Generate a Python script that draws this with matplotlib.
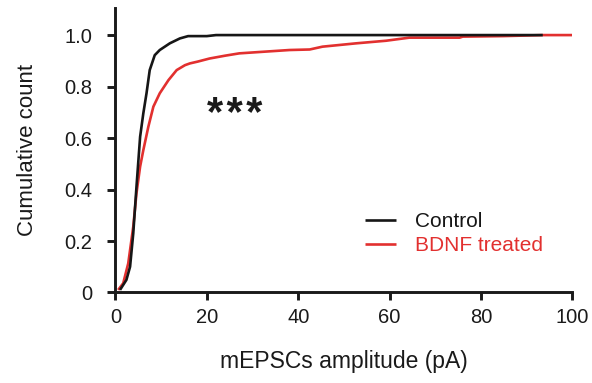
import matplotlib
matplotlib.use("Agg")
import matplotlib.pyplot as plt
from matplotlib.ticker import FuncFormatter

plt.rcParams['font.family'] = ['Liberation Sans', 'DejaVu Sans']

control_x = [1.0, 2.4, 3.2, 3.9, 4.6, 5.4, 6.1, 6.8, 7.5, 8.6, 9.7, 11.9, 14.1, 15.9, 20.0, 22.0, 93.5]
control_y = [0.01, 0.049, 0.10, 0.23, 0.41, 0.605, 0.696, 0.774, 0.864, 0.922, 0.942, 0.968, 0.987, 0.996, 0.996,
             1.0, 1.0]

bdnf_x = [0.6, 1.7, 2.8, 3.9, 4.6, 5.4, 6.1, 7.2, 8.3, 9.7, 11.6, 13.4, 15.2, 16.3, 18.0, 20.6, 24.0, 27.1,
          33.0, 38.1, 42.5, 45.3, 52.7, 59.2, 64.3, 75.3, 76.0, 84.8, 93.5, 100.0]
bdnf_y = [0.01, 0.036, 0.113, 0.256, 0.385, 0.489, 0.553, 0.644, 0.722, 0.774, 0.825, 0.864, 0.883, 0.89, 0.897,
          0.909, 0.92, 0.929, 0.936, 0.942, 0.944, 0.955, 0.968, 0.978, 0.99, 0.99, 0.994, 0.996, 1.0, 1.0]

series_labels = ["Control", "BDNF treated"]
series_colors = ["#161616", "#e2302f"]
ink = "#1a1a1a"

fig = plt.figure(figsize=(5.92, 3.83), dpi=100)
ax = fig.add_axes([0.195, 0.2363, 0.772, 0.742])

ax.plot(control_x, control_y, color=series_colors[0], lw=1.9, label=series_labels[0], zorder=3,
        solid_capstyle='butt')
ax.plot(bdnf_x, bdnf_y, color=series_colors[1], lw=1.9, label=series_labels[1], zorder=2,
        solid_capstyle='butt')

ax.set_xlim(0, 100)
ax.set_ylim(0, 1.104)
ax.set_xticks([0, 20, 40, 60, 80, 100])
ax.set_yticks([0, 0.2, 0.4, 0.6, 0.8, 1.0])
ax.yaxis.set_major_formatter(FuncFormatter(lambda v, p: "0" if v == 0 else f"{v:.1f}"))

for s in ['top', 'right']:
    ax.spines[s].set_visible(False)
for s in ['left', 'bottom']:
    ax.spines[s].set_linewidth(2.1)
    ax.spines[s].set_color(ink)
ax.tick_params(axis='both', direction='out', length=6, width=2.1, color=ink,
               labelsize=14.5, labelcolor=ink)
ax.tick_params(axis='x', pad=5)
ax.tick_params(axis='y', pad=10.5)

ax.set_xlabel("mEPSCs amplitude (pA)", fontsize=16.5, labelpad=17, color=ink)
ax.set_ylabel("Cumulative count", fontsize=16, labelpad=19, color=ink)

ax.text(26.1, 0.645, "*\u200a*\u200a*", fontsize=30, ha='center', va='baseline', color=ink,
        fontweight='bold', family=['Liberation Sans', 'DejaVu Sans'])

leg = ax.legend(loc='center left', bbox_to_anchor=(0.546, 0.207), frameon=False, fontsize=15,
                handlelength=1.5, handletextpad=0.9, labelspacing=0.25, borderpad=0, borderaxespad=0)
for t, c in zip(leg.get_texts(), series_colors):
    t.set_color(c)

fig.savefig("out.png", dpi=100)
